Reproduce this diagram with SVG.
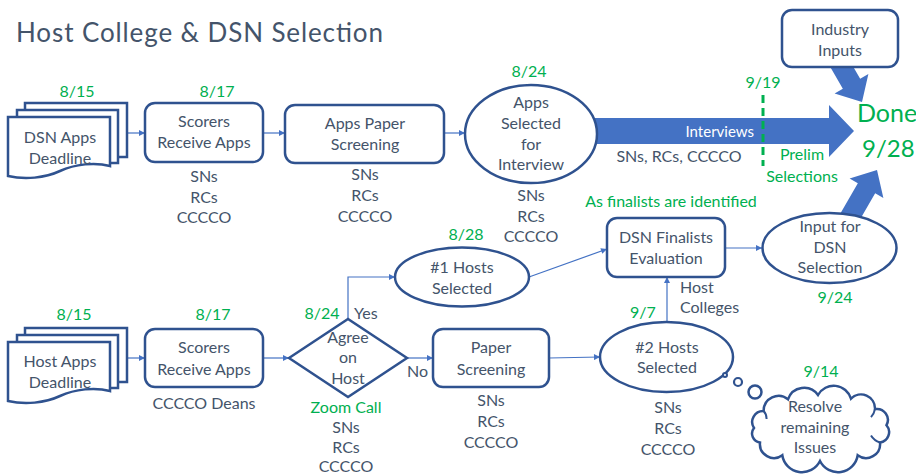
<svg xmlns="http://www.w3.org/2000/svg" width="916" height="474" viewBox="0 0 916 474">
<defs>
<style>
text{font-family:Lato,"Open Sans","Liberation Sans",sans-serif;font-size:16px;fill:#44546A;text-anchor:middle}
.g{fill:#00B050}
.l{text-anchor:start}
.n{fill:#fff;stroke:#2F528F;stroke-width:2.5}
.i{fill:none;stroke:#2F528F;stroke-width:2}
.c{fill:none;stroke:#4472C4;stroke-width:1.2}
.blk{fill:#4472C4}
</style>
<marker id="ah" viewBox="0 0 10 10" refX="10" refY="5" markerWidth="7" markerHeight="6" markerUnits="userSpaceOnUse" orient="auto">
<path d="M0,0 L10,5 L0,10 Z" fill="#4472C4"/>
</marker>
<g id="docshape">
<rect x="25" y="0" width="102" height="54" class="n"/>
<rect x="17" y="7" width="101" height="53" class="n"/>
<path d="M8,14 H110 V63 C95,59 75,61 60,68 C45,75 25,77 8,73 Z" class="n"/>
</g>
</defs>
<rect width="916" height="474" fill="#fff"/>
<text x="16" y="42" class="l" style="font-size:26px" textLength="367">Host College &amp; DSN Selection</text>

<g id="connectors">
<path d="M127,133 H145" class="c" marker-end="url(#ah)"/>
<path d="M263,133 H285" class="c" marker-end="url(#ah)"/>
<path d="M444,133 H465" class="c" marker-end="url(#ah)"/>
<path d="M127,358 H145" class="c" marker-end="url(#ah)"/>
<path d="M263,358 H289" class="c" marker-end="url(#ah)"/>
<path d="M348,319 V277 H395" class="c" marker-end="url(#ah)"/>
<path d="M407,358 H433" class="c" marker-end="url(#ah)"/>
<path d="M549,358 L600,357" class="c" marker-end="url(#ah)"/>
<path d="M529,277 L607,249" class="c" marker-end="url(#ah)"/>
<path d="M667,322 V277" class="c" marker-end="url(#ah)"/>
<path d="M725,248 H762" class="c" marker-end="url(#ah)"/>
<polygon class="blk" points="590,118 829,118 829,105 854,131 829,157 829,144 590,144"/>
<polygon class="blk" transform="translate(862,102) rotate(60)" points="-60,-10 -21,-10 -21,-19.5 0,0 -21,19.5 -21,10 -60,10"/>
<polygon class="blk" transform="translate(877,170) rotate(-60)" points="-62,-10 -21,-10 -21,-19.5 0,0 -21,19.5 -21,10 -62,10"/>
</g>

<g id="dsn-apps-deadline">
<use href="#docshape" y="103"/>
<text x="60" y="143">DSN Apps</text>
<text x="60" y="164">Deadline</text>
<text x="77" y="97" class="g">8/15</text>
</g>

<g id="scorers-dsn">
<rect x="145" y="103" width="118" height="59" rx="10" class="n"/>
<text x="204" y="127">Scorers</text>
<text x="204" y="148">Receive Apps</text>
<text x="217" y="97" class="g">8/17</text>
<text x="204" y="182">SNs</text>
<text x="204" y="203">RCs</text>
<text x="204" y="223">CCCCO</text>
</g>

<g id="apps-paper-screening">
<rect x="285" y="105" width="159" height="58" rx="10" class="n"/>
<text x="365" y="129">Apps Paper</text>
<text x="365" y="150">Screening</text>
<text x="365" y="180">SNs</text>
<text x="365" y="201">RCs</text>
<text x="365" y="222">CCCCO</text>
</g>

<g id="apps-selected">
<ellipse cx="531" cy="134" rx="66" ry="49" class="n"/>
<text x="531" y="108">Apps</text>
<text x="531" y="129">Selected</text>
<text x="531" y="150">for</text>
<text x="531" y="170">Interview</text>
<text x="529" y="77" class="g">8/24</text>
<text x="531" y="201">SNs</text>
<text x="531" y="222">RCs</text>
<text x="531" y="242">CCCCO</text>
</g>

<g id="interviews">
<text x="754" y="137" style="text-anchor:end;fill:#fff;font-size:15px">Interviews</text>
<text x="679" y="162">SNs, RCs, CCCCO</text>
<line x1="763" y1="95" x2="763" y2="166" stroke="#00B050" stroke-width="3" stroke-dasharray="8,5"/>
<text x="763" y="88" class="g">9/19</text>
<text x="802" y="160" class="g">Prelim</text>
<text x="802" y="182" class="g">Selections</text>
</g>

<g id="industry-inputs">
<rect x="782" y="10" width="116" height="57" rx="10" class="n"/>
<text x="840" y="35">Industry</text>
<text x="840" y="56">Inputs</text>
</g>

<g id="done">
<text x="857" y="122" class="g l" style="font-size:25px">Done</text>
<text x="862" y="157" class="g l" style="font-size:24px">9/28</text>
</g>

<g id="host-apps-deadline">
<use href="#docshape" y="328"/>
<text x="60" y="367">Host Apps</text>
<text x="60" y="388">Deadline</text>
<text x="74" y="320" class="g">8/15</text>
</g>

<g id="scorers-host">
<rect x="145" y="329" width="118" height="58" rx="10" class="n"/>
<text x="204" y="353">Scorers</text>
<text x="204" y="375">Receive Apps</text>
<text x="213" y="320" class="g">8/17</text>
<text x="204" y="409">CCCCO Deans</text>
</g>

<g id="agree-on-host">
<polygon points="289,358 348,319 407,358 348,397" class="n"/>
<text x="348" y="343">Agree</text>
<text x="348" y="363">on</text>
<text x="348" y="384">Host</text>
<text x="322" y="319" class="g">8/24</text>
<text x="354" y="319" class="l">Yes</text>
<text x="407" y="377" class="l">No</text>
<text x="346" y="413" class="g">Zoom Call</text>
<text x="346" y="433">SNs</text>
<text x="346" y="453">RCs</text>
<text x="346" y="472">CCCCO</text>
</g>

<g id="hosts1-selected">
<ellipse cx="462" cy="277" rx="67" ry="29.5" class="n"/>
<text x="462" y="273">#1 Hosts</text>
<text x="462" y="294">Selected</text>
<text x="466" y="240" class="g">8/28</text>
</g>

<g id="paper-screening">
<rect x="433" y="329" width="116" height="58" rx="10" class="n"/>
<text x="491" y="353">Paper</text>
<text x="491" y="375">Screening</text>
<text x="491" y="406">SNs</text>
<text x="491" y="427">RCs</text>
<text x="491" y="448">CCCCO</text>
</g>

<g id="dsn-finalists">
<rect x="607" y="218" width="118" height="59" rx="10" class="n"/>
<text x="666" y="243">DSN Finalists</text>
<text x="666" y="264">Evaluation</text>
<text x="671" y="207" class="g">As finalists are identified</text>
<text x="680" y="293" class="l">Host</text>
<text x="680" y="313" class="l">Colleges</text>
</g>

<g id="input-dsn-selection">
<ellipse cx="829.5" cy="248" rx="67" ry="35" class="n"/>
<text x="830" y="232">Input for</text>
<text x="830" y="253">DSN</text>
<text x="830" y="273">Selection</text>
<text x="835" y="303" class="g">9/24</text>
</g>

<g id="hosts2-selected">
<ellipse cx="666.5" cy="357" rx="66.5" ry="35" class="n"/>
<text x="667" y="353">#2 Hosts</text>
<text x="667" y="373">Selected</text>
<text x="643" y="318" class="g">9/7</text>
<text x="668" y="413">SNs</text>
<text x="668" y="434">RCs</text>
<text x="668" y="455">CCCCO</text>
</g>

<g id="resolve-issues">
<circle cx="725" cy="375" r="2" class="n" style="stroke-width:2"/>
<circle cx="738" cy="382" r="4" class="n" style="stroke-width:2.2"/>
<circle cx="755" cy="392" r="6.5" class="n"/>
<path class="n" d="M754,428 A11,11 0 0 1 763.6,411 A15,15 0 0 1 788,399.3 A17,17 0 0 1 818,395 A18,18 0 0 1 851,398.7 A14,14 0 0 1 875,409.1 A11,11 0 0 1 886.5,425.2 A10.5,10.5 0 0 1 880,442.5 A14,14 0 0 1 857.7,455.2 A20,20 0 0 1 820,461 A20,20 0 0 1 782.3,455.2 A14,14 0 0 1 760,442.5 A9,9 0 0 1 754,428 Z"/>
<path class="i" d="M763.6,411 q3,3 3,8 M875,409.1 q-1,5 -4,8 M880,442.5 q-6,-2 -9,-7"/>
<text x="821" y="377" class="g">9/14</text>
<text x="815" y="412">Resolve</text>
<text x="815" y="433">remaining</text>
<text x="815" y="453">Issues</text>
</g>
</svg>
